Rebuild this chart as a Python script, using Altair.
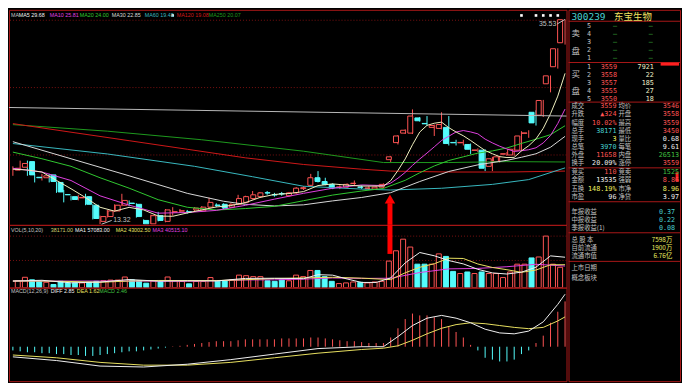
import altair as alt
import pandas as pd

# ---------------- candles (77 trading days) ----------------
opens = [19.19, 19.50, 20.11, 18.41, 18.36, 18.67, 17.85, 16.54, 16.31, 16.18,
         16.31, 15.38, 13.63, 14.15, 14.76, 15.38, 15.61, 15.48, 13.73, 13.36,
         14.25, 13.63, 14.64, 14.74, 14.68, 14.87, 14.76, 15.17, 15.40, 15.48,
         15.17, 15.48, 15.69, 16.10, 16.31, 16.74, 16.53, 16.64, 16.41, 16.72,
         17.18, 17.54, 18.36, 17.95, 17.64, 17.32, 17.34, 17.73, 17.36, 17.21,
         17.13, 17.34, 20.32, 22.17, 23.20, 23.20, 24.85, 24.25, 23.82, 23.71,
         23.82, 22.19, 22.15, 21.97, 21.33, 21.35, 19.60, 20.11, 20.92, 20.83,
         21.35, 23.18, 25.46, 25.15, 28.55, 30.40, 33.00]
highs = [19.60, 20.22, 20.22, 18.78, 18.78, 18.78, 17.95, 17.03, 16.41, 16.51,
         16.62, 15.48, 14.25, 14.87, 15.48, 16.62, 15.90, 15.59, 13.84, 14.35,
         14.66, 14.97, 15.17, 14.97, 14.87, 15.17, 15.28, 16.20, 15.59, 15.59,
         15.59, 16.51, 16.41, 16.92, 16.82, 16.92, 16.72, 16.82, 16.82, 17.34,
         17.44, 18.78, 19.08, 18.36, 17.75, 17.54, 17.75, 18.06, 17.54, 17.44,
         17.44, 17.75, 20.73, 22.99, 23.61, 25.77, 24.95, 25.05, 24.13, 25.46,
         25.05, 22.48, 22.48, 22.07, 21.55, 21.45, 20.63, 20.73, 21.14, 21.55,
         23.41, 23.51, 25.67, 26.80, 29.45, 32.40, 35.53]
lows = [18.57, 19.39, 18.57, 17.85, 18.06, 17.85, 16.72, 15.69, 15.90, 15.90,
        15.38, 13.84, 13.32, 14.04, 14.66, 15.28, 15.28, 14.04, 13.33, 13.34,
        13.63, 13.53, 14.25, 14.56, 14.46, 14.76, 14.66, 15.07, 15.17, 14.97,
        15.07, 15.38, 15.59, 16.00, 16.20, 16.51, 16.31, 16.41, 16.31, 16.62,
        17.03, 17.44, 17.85, 17.54, 17.13, 17.13, 17.23, 17.54, 17.13, 17.03,
        17.03, 17.23, 20.01, 21.97, 23.10, 23.10, 24.44, 24.02, 22.89, 23.61,
        21.86, 21.86, 21.86, 20.94, 21.14, 19.08, 19.08, 20.01, 20.73, 20.73,
        21.24, 22.69, 24.02, 24.95, 27.62, 30.20, 32.80]
closes = [19.39, 19.91, 18.67, 18.36, 18.57, 17.95, 16.82, 16.51, 16.00, 16.22,
          15.48, 13.94, 14.15, 14.76, 15.38, 15.90, 15.57, 14.15, 13.36, 14.25,
          13.73, 14.87, 14.68, 14.78, 14.64, 15.07, 15.17, 15.69, 15.36, 15.07,
          15.48, 16.10, 16.31, 16.51, 16.72, 16.70, 16.49, 16.60, 16.72, 17.23,
          17.28, 18.36, 17.95, 17.64, 17.23, 17.36, 17.64, 17.77, 17.32, 17.25,
          17.34, 17.64, 20.63, 22.89, 23.51, 25.05, 24.54, 24.21, 24.02, 24.13,
          22.07, 22.15, 22.19, 21.45, 21.37, 19.39, 20.42, 20.63, 20.96, 21.45,
          22.89, 23.22, 24.31, 26.74, 29.41, 32.35, 35.50]
vols = [12850, 19360, 14610, 11790, 10030, 5810, 11790, 8800, 8800, 8800,
        10030, 11790, 12850, 14080, 14080, 19890, 14610, 12850, 8270, 12850,
        11790, 19890, 12850, 11790, 7040, 11790, 11790, 18830, 12850, 12850,
        14610, 23410, 22350, 20590, 20590, 12850, 11790, 14610, 12850, 23410,
        20590, 32210, 32210, 20590, 11790, 7570, 8800, 10560, 10030, 8800,
        10560, 11790, 49810, 69170, 90990, 76210, 44000, 44000, 44000, 63360,
        58610, 30450, 26400, 29390, 26400, 29390, 26400, 26400, 18830, 29390,
        44000, 44000, 55790, 57550, 96800, 44000, 38171]

# ---------------- moving averages ----------------
ma5_i = [0, 2, 4, 6, 8, 10, 12, 14, 16, 18, 20, 22, 24, 26, 28, 30, 32, 34, 36, 38, 40, 42, 44, 46,
         48, 50, 51, 52, 53, 54, 55, 56, 57, 58, 59, 60, 61, 62, 63, 64, 65, 66, 67, 68, 69, 70,
         71, 72, 73, 74, 75, 76]
ma5_v = [19.29, 19.20, 18.98, 18.07, 17.17, 16.21, 15.16, 14.74, 15.15, 14.87, 14.21, 14.18, 14.54,
         14.87, 15.19, 15.35, 15.66, 16.22, 16.55, 16.65, 16.86, 17.51, 17.69, 17.56, 17.46, 17.46,
         17.46, 18.04, 19.15, 20.40, 21.94, 23.32, 24.04, 24.27, 24.39, 23.79, 23.32, 22.91, 22.40,
         21.85, 21.31, 20.96, 20.65, 20.55, 20.57, 21.27, 21.83, 22.57, 23.72, 25.31, 27.21, 29.68]
ma10_i = [0, 4, 8, 12, 16, 20, 24, 28, 32, 36, 40, 44, 48, 51, 52, 53, 54, 55, 56, 57, 58, 59, 60,
          61, 62, 63, 64, 65, 66, 67, 68, 69, 70, 71, 72, 73, 74, 75, 76]
ma10_v = [19.39, 18.98, 18.06, 16.40, 15.39, 14.52, 14.59, 14.82, 15.37, 16.04, 16.67, 17.22, 17.58,
          17.51, 17.78, 18.31, 18.94, 19.70, 20.39, 21.04, 21.71, 22.40, 22.87, 23.32, 23.48, 23.33,
          23.12, 22.55, 22.14, 21.78, 21.48, 21.21, 21.29, 21.40, 21.61, 22.14, 22.94, 24.24, 25.81]
ma20_i = [0, 4, 8, 12, 16, 20, 24, 28, 32, 36, 40, 44, 48, 51, 54, 56, 58, 60, 62, 64, 66, 68, 70,
          72, 74, 76]
ma20_v = [21.14, 20.42, 19.60, 18.36, 17.23, 15.98, 15.16, 14.86, 15.02, 15.26, 15.87, 16.48, 16.92,
          17.20, 18.08, 18.90, 19.64, 20.23, 20.63, 21.03, 21.27, 21.59, 22.08, 22.54, 23.03, 24.00]
ma30_i = [0, 8, 16, 24, 29, 32, 36, 40, 44, 48, 52, 56, 60, 64, 68, 70, 72, 74, 76]
ma30_v = [22.27, 20.42, 18.57, 16.67, 15.81, 15.48, 15.30, 15.42, 15.85, 16.22, 16.74, 17.95, 19.04,
          19.76, 20.25, 20.58, 20.96, 21.67, 22.85]
ma60_i = [0, 13, 25, 33, 40, 48, 52, 59, 66, 71, 76]
ma60_v = [22.07, 20.94, 19.60, 18.47, 17.44, 17.13, 17.03, 17.22, 17.64, 18.16, 19.43]
ma120_i = [0, 8, 16, 24, 32, 40, 48, 52, 60, 68, 76]
ma120_v = [24.23, 23.30, 22.38, 21.45, 20.52, 19.80, 19.29, 19.08, 18.98, 18.98, 19.08]
ma250_i = [0, 13, 26, 40, 51, 60, 68, 76]
ma250_v = [24.12, 23.41, 22.48, 21.24, 20.01, 20.01, 20.11, 20.07]
trend_i = [-0.6, 76.3]
trend_v = [25.98, 25.05]

# ---------------- volume averages ----------------
vma5_i = [0, 4, 8, 12, 16, 20, 24, 28, 32, 36, 40, 42, 44, 46, 48, 50, 52, 54, 56, 58, 60, 62, 64,
          66, 68, 70, 72, 74, 76]
vma5_v = [12310, 13720, 8970, 10380, 15130, 12140, 12660, 12490, 17240, 17590, 16710, 24270, 23390,
          16180, 9670, 9670, 18120, 46440, 65960, 59810, 50830, 44500, 34300, 27620, 25510, 29020,
          38350, 59630, 57083]
vma10_i = [0, 4, 8, 12, 16, 20, 24, 28, 32, 36, 40, 44, 48, 52, 54, 56, 58, 60, 62, 64, 66, 68, 70,
           72, 74, 76]
vma10_v = [12310, 12310, 11430, 10030, 12310, 13370, 13190, 13190, 14780, 17060, 18290, 19350, 17770,
           14950, 27790, 38170, 44850, 55230, 54700, 44330, 37820, 33600, 28670, 32980, 42920, 43002]
vma20_i = [0, 4, 8, 12, 16, 20, 24, 28, 32, 36, 40, 44, 48, 52, 56, 60, 64, 68, 72, 76]
vma20_v = [12310, 12310, 12310, 12310, 12310, 12140, 11960, 12930, 14420, 14600, 15830, 18120, 17240,
           17590, 28320, 35180, 36060, 39230, 43800, 40515]

# ---------------- MACD ----------------
macd_i = [0, 6, 12, 18, 24, 30, 36, 42, 48, 51, 53, 55, 57, 59, 61, 63, 65, 67, 69, 71, 73, 75, 76]
diff_v = [-0.55, -0.75, -1.05, -1.10, -0.95, -0.70, -0.40, -0.10, 0.00, 0.00, 0.55, 1.15, 1.55, 1.70,
          1.55, 1.30, 0.95, 0.75, 0.70, 0.85, 1.35, 2.30, 2.85]
dea_v = [-0.45, -0.60, -0.85, -1.00, -1.00, -0.85, -0.60, -0.35, -0.15, -0.08, 0.05, 0.35, 0.70, 1.00,
         1.20, 1.30, 1.25, 1.15, 1.05, 0.98, 1.05, 1.40, 1.62]
macd_bar = [-0.20, -0.25, -0.30, -0.30, -0.35, -0.35, -0.40, -0.40, -0.45, -0.45,
            -0.50, -0.50, -0.45, -0.40, -0.35, -0.30, -0.25, -0.25, -0.20, -0.15,
            -0.10, -0.05, 0.02, 0.05, 0.10, 0.15, 0.20, 0.25, 0.30, 0.30,
            0.30, 0.35, 0.40, 0.40, 0.40, 0.40, 0.40, 0.45, 0.45, 0.45,
            0.45, 0.50, 0.50, 0.45, 0.40, 0.35, 0.30, 0.30, 0.25, 0.20,
            0.20, 0.20, 0.50, 1.00, 1.50, 1.80, 1.70, 1.70, 1.60, 1.50,
            1.10, 0.80, 0.50, 0.10, -0.20, -0.60, -0.70, -0.80, -0.80, -0.70,
            -0.40, -0.20, 0.20, 0.60, 1.30, 1.90, 2.46]

# ---------------- info panel text ----------------
book_lv = ["5", "4", "3", "2", "1", "1", "2", "3", "4", "5"]
book_px = ["—", "—", "—", "—", "—", "3559", "3558", "3557", "3555", "3550"]
book_vol = ["—", "—", "—", "—", "—", "7921", "22", "185", "27", "18"]
q_lab1 = ["成交", "升跌", "幅度", "总手", "现手", "总笔", "外盘", "换手", "竞买", "金额", "五换", "市盈"]
q_val1 = ["3559", "▲324", "10.02%", "38171", "3", "3970", "11658", "20.09%", "110", "13535", "148.19%", "96"]
q_lab2 = ["均价", "开盘", "最高", "最低", "量比", "每笔", "内盘", "涨停", "竞卖", "强弱", "市净", "净贷"]
q_val2 = ["3546", "3558", "3559", "3450", "0.68", "9.61", "26513", "3559", "1525", "8.86", "8.96", "3.97"]
f_lab = ["年报收益", "中报收益", "季报收益(1)"]
f_val = ["0.37", "0.22", "0.08"]
s_lab = ["总 股 本", "目前流通", "流通市值"]
s_val = ["7598万", "1900万", "6.76亿"]
e_lab = ["上市日期", "概念板块"]

# ---------------- style / layout ----------------
SX = 672 / 690
SY = 373 / 391
W_L, W_R = 560, 112
H1, H2, H3 = 216, 63, 94
BG = "#000000"
BORDER = "#a81818"
GRIDC = "#7a1010"
RED = "#ff5454"
CYAN = "#54fcfc"
GREY = "#c0c0c0"
YEL = "#f0f060"
FONT = "Liberation Sans"
CJK = "Noto Sans CJK SC"
MONO = "DejaVu Sans Mono"

X_DOM = [-0.534, 76.2]
P_DOM = [13.25, 36.57]
V_DOM = [0, 117900]
M_DOM = [-1.87, 3.21]


def xsc():
    return alt.Scale(domain=X_DOM, nice=False, zero=False)


def ysc(dom):
    return alt.Scale(domain=dom, nice=False, zero=False)


XI = alt.X("i:Q", scale=xsc(), axis=None)

cd = pd.DataFrame({"i": list(range(len(opens))), "open": opens, "high": highs,
                   "low": lows, "close": closes, "vol": vols})
cd["dir"] = ["up" if c >= o else "down" for o, c in zip(opens, closes)]
dir_color = alt.Color("dir:N", scale=alt.Scale(domain=["up", "down"], range=[RED, CYAN]), legend=None)


def lines_df(items):
    rows = []
    for name, ii, vv in items:
        for a, b in zip(ii, vv):
            rows.append({"name": name, "i": a, "v": b})
    return pd.DataFrame(rows)


def legend_layer(items, ypx, size=5.4):
    df = pd.DataFrame(items, columns=["t", "px", "c"])
    df["px"] = df["px"] * SX
    return alt.Chart(df).mark_text(align="left", baseline="middle", font=FONT, fontSize=size).encode(
        x=alt.X("px:Q", scale=None), y=alt.value(ypx * SY), text="t:N",
        color=alt.Color("c:N", scale=None))


# ---------------- main price panel ----------------
grid_main = alt.Chart(pd.DataFrame({"p": [35.44, 28.14, 20.83]})).mark_rule(
    color=GRIDC, strokeDash=[1, 2], strokeWidth=1).encode(y=alt.Y("p:Q", scale=ysc(P_DOM), axis=None))

wick = alt.Chart(cd).mark_rule(strokeWidth=1, clip=True).encode(
    x=XI, y=alt.Y("low:Q", scale=ysc(P_DOM), axis=None), y2="high:Q", color=dir_color)
body_up = alt.Chart(cd).transform_filter("datum.dir == 'up'").mark_bar(
    size=5, fill=BG, stroke=RED, strokeWidth=1, clip=True).encode(
    x=XI, y=alt.Y("open:Q", scale=ysc(P_DOM), axis=None), y2="close:Q")
body_dn = alt.Chart(cd).transform_filter("datum.dir == 'down'").mark_bar(
    size=5, fill=CYAN, stroke=CYAN, strokeWidth=1, clip=True).encode(
    x=XI, y=alt.Y("open:Q", scale=ysc(P_DOM), axis=None), y2="close:Q")

ma_names = ["MA250", "MA120", "MA60", "MA30", "MA20", "MA10", "MA5", "trend"]
ma_cols = ["#1e9a1e", "#d01818", "#38b8c0", "#d8d8d8", "#30c830", "#e040e0", "#f0f0c0", "#b8b8b8"]
ma_df = lines_df([("MA250", ma250_i, ma250_v), ("MA120", ma120_i, ma120_v), ("MA60", ma60_i, ma60_v),
                  ("MA30", ma30_i, ma30_v), ("MA20", ma20_i, ma20_v), ("MA10", ma10_i, ma10_v),
                  ("MA5", ma5_i, ma5_v), ("trend", trend_i, trend_v)])
ma_lines = alt.Chart(ma_df).mark_line(strokeWidth=1, clip=True).encode(
    x=XI, y=alt.Y("v:Q", scale=ysc(P_DOM), axis=None),
    color=alt.Color("name:N", scale=alt.Scale(domain=ma_names, range=ma_cols), legend=None))

lead_df = pd.DataFrame({"i": [74.9, 12.2], "i2": [76.0, 13.6], "v": [35.03, 13.32], "v2": [35.53, 13.73]})
leaders = alt.Chart(lead_df).mark_rule(color=GREY, strokeWidth=1).encode(
    x=XI, x2="i2:Q", y=alt.Y("v:Q", scale=ysc(P_DOM), axis=None), y2="v2:Q")
lab_df = pd.DataFrame({"i": [74.8, 13.8], "v": [35.05, 13.73], "t": ["35.53", "13.32"]})
hi_lab = alt.Chart(lab_df.iloc[[0]]).mark_text(align="right", baseline="middle", font=FONT,
                                               fontSize=7, color=GREY).encode(
    x=XI, y=alt.Y("v:Q", scale=ysc(P_DOM), axis=None), text="t:N")
lo_lab = alt.Chart(lab_df.iloc[[1]]).mark_text(align="left", baseline="middle", font=FONT,
                                               fontSize=7, color=GREY).encode(
    x=XI, y=alt.Y("v:Q", scale=ysc(P_DOM), axis=None), text="t:N")

mine_df = pd.DataFrame({"i": [22, 70, 72, 73, 74, 75], "v": [35.96] * 6})
mines = alt.Chart(mine_df).mark_square(size=7, color="#ffffff", opacity=1).encode(
    x=XI, y=alt.Y("v:Q", scale=ysc(P_DOM), axis=None))

arrow_df = pd.DataFrame({"i": [51.9], "v": [13.25], "v2": [15.6], "tip": [16.05]})
arrow_bar = alt.Chart(arrow_df).mark_rule(color="#ff0000", strokeWidth=5).encode(
    x=XI, y=alt.Y("v:Q", scale=ysc(P_DOM), axis=None), y2="v2:Q")
arrow_head = alt.Chart(arrow_df).mark_point(shape="triangle-up", filled=True, size=110,
                                            color="#ff0000", opacity=1).encode(
    x=XI, y=alt.Y("tip:Q", scale=ysc(P_DOM), axis=None))

ma_legend = legend_layer([("MA", 2, GREY), ("MA5 29.68", 10, "#f0f0f0"), ("MA10 25.81", 42, "#e040e0"),
                          ("MA20 24.00", 73, "#30c830"), ("MA30 22.85", 106, "#d8d8d8"),
                          ("MA60 19.43", 140, "#38b8c0"), ("MA120 19.08", 173, "#d01818"),
                          ("MA250 20.07", 206, "#1e9a1e")], 5)

main = alt.layer(grid_main, wick, body_up, body_dn, ma_lines, leaders, hi_lab, lo_lab, mines,
                 arrow_bar, arrow_head, ma_legend).resolve_scale(
    x="independent", y="independent", color="independent").properties(width=W_L, height=H1)

# ---------------- volume panel ----------------
grid_vol = alt.Chart(pd.DataFrame({"p": [96750, 51000]})).mark_rule(
    color=GRIDC, strokeDash=[1, 2], strokeWidth=1).encode(y=alt.Y("p:Q", scale=ysc(V_DOM), axis=None))
vol_up = alt.Chart(cd).transform_filter("datum.dir == 'up'").mark_bar(
    size=5, fill=BG, stroke=RED, strokeWidth=1, clip=True).encode(
    x=XI, y=alt.Y("vol:Q", scale=ysc(V_DOM), axis=None))
vol_dn = alt.Chart(cd).transform_filter("datum.dir == 'down'").mark_bar(
    size=5, fill=CYAN, stroke=CYAN, strokeWidth=1, clip=True).encode(
    x=XI, y=alt.Y("vol:Q", scale=ysc(V_DOM), axis=None))
vma_df = lines_df([("V20", vma20_i, vma20_v), ("V10", vma10_i, vma10_v), ("V5", vma5_i, vma5_v)])
vma_lines = alt.Chart(vma_df).mark_line(strokeWidth=1, clip=True).encode(
    x=XI, y=alt.Y("v:Q", scale=ysc(V_DOM), axis=None),
    color=alt.Color("name:N", scale=alt.Scale(domain=["V20", "V10", "V5"],
                                              range=["#e040e0", "#e8e060", "#f0f0f0"]), legend=None))
arrow_vol = alt.Chart(pd.DataFrame({"i": [51.9], "v": [117900], "v2": [63300]})).mark_rule(
    color="#ff0000", strokeWidth=5).encode(x=XI, y=alt.Y("v:Q", scale=ysc(V_DOM), axis=None), y2="v2:Q")
vol_legend = legend_layer([("VOL(5,10,20)", 2, GREY), ("38171.00", 43, "#d0d070"),
                           ("MA1 57083.00", 68, "#f0f0f0"), ("MA2 43002.50", 110, "#e8e060"),
                           ("MA3 40515.10", 148, "#e040e0")], 231 - 226)
vol = alt.layer(grid_vol, vol_up, vol_dn, vma_lines, arrow_vol, vol_legend).resolve_scale(
    x="independent", y="independent", color="independent").properties(width=W_L, height=H2)

# ---------------- MACD panel ----------------
md = pd.DataFrame({"i": list(range(len(macd_bar))), "m": macd_bar, "z": [0.0] * len(macd_bar)})
md["s"] = ["pos" if v >= 0 else "neg" for v in macd_bar]
macd_bars = alt.Chart(md).mark_rule(strokeWidth=1, clip=True).encode(
    x=XI, y=alt.Y("m:Q", scale=ysc(M_DOM), axis=None), y2="z:Q",
    color=alt.Color("s:N", scale=alt.Scale(domain=["pos", "neg"], range=[RED, CYAN]), legend=None))
mline_df = lines_df([("DEA", macd_i, dea_v), ("DIFF", macd_i, diff_v)])
macd_lines = alt.Chart(mline_df).mark_line(strokeWidth=1, clip=True).encode(
    x=XI, y=alt.Y("v:Q", scale=ysc(M_DOM), axis=None),
    color=alt.Color("name:N", scale=alt.Scale(domain=["DEA", "DIFF"], range=["#e8e060", "#f0f0f0"]),
                    legend=None))
macd_legend = legend_layer([("MACD(12,26,9)", 2, GREY), ("DIFF 2.85", 43, "#f0f0f0"),
                            ("DEA 1.62", 70, "#e8e060"), ("MACD 2.46", 93, "#40c040")], 297 - 293)
macd = alt.layer(macd_bars, macd_lines, macd_legend).resolve_scale(
    x="independent", y="independent", color="independent").properties(width=W_L, height=H3)

# ---------------- info panel ----------------
R_DOM = [-0.698, 44.77]
q_rows = [11.1, 12.1, 13.1, 14.1, 15.1, 16.1, 17.1, 18.1, 19.2, 20.2, 21.2, 22.2]


def col(xref):
    return (xref - 575) * SX


txt = []


def add(t, xref, r, align, c, size=6.4, font=CJK):
    txt.append({"t": t, "px": col(xref), "r": r, "a": align, "c": c, "s": size, "f": font})


add("300239", 578, 0.15, "left", "#48d0d0", 9.5, MONO)
add("东宝生物", 622, 0.15, "left", "#f0e060", 9.5)
add("卖", 578, 2.2, "left", GREY, 8.5)
add("盘", 578, 4.3, "left", GREY, 8.5)
add("买", 578, 7.2, "left", GREY, 8.5)
add("盘", 578, 9.2, "left", GREY, 8.5)
for k in range(10):
    r = 1.25 + k
    add(book_lv[k], 594, r, "left", GREY, 6.8, MONO)
    if k < 5:
        add(book_px[k], 625, r, "right", "#40c040", 6.8, MONO)
        add(book_vol[k], 662, r, "right", "#40c040", 6.8, MONO)
    else:
        add(book_px[k], 625, r, "right", RED, 6.8, MONO)
        add(book_vol[k], 663, r, "right", "#f0f0c8", 6.8, MONO)
v1c = [RED, RED, RED, "#48d0d0", YEL, "#48d0d0", RED, "#f0f0f0", RED, "#f0f0f0", YEL, "#f0f0f0"]
v2c = [RED, RED, RED, RED, "#f0f0f0", "#f0f0f0", "#40c040", RED, "#40c040", RED, YEL, "#f0f0f0"]
for k in range(12):
    r = q_rows[k]
    add(q_lab1[k], 578, r, "left", GREY)
    add(q_val1[k], 624.5, r, "right", v1c[k], 6.8, MONO)
    add(q_lab2[k], 626.5, r, "left", GREY)
    add(q_val2[k], 689, r, "right", v2c[k], 6.8, MONO)
for k in range(3):
    add(f_lab[k], 578, 24 + k, "left", GREY)
    add(f_val[k], 685, 24 + k, "right", "#48d0d0", 6.8, MONO)
for k in range(3):
    add(s_lab[k], 578, 27.5 + k, "left", GREY)
    add(s_val[k], 682, 27.5 + k, "right", YEL)
add(e_lab[0], 578, 30.9, "left", GREY)
add(e_lab[1], 578, 32.1, "left", GREY)
tdf = pd.DataFrame(txt)

RY = alt.Y("r:Q", scale=alt.Scale(domain=R_DOM, range=[0, H1 + H2 + H3]), axis=None)
info_layers = []
for a in ["left", "right"]:
    for f in [CJK, MONO]:
        for s in sorted(tdf["s"].unique()):
            sub = tdf[(tdf["a"] == a) & (tdf["s"] == s) & (tdf["f"] == f)]
            if len(sub) == 0:
                continue
            info_layers.append(alt.Chart(sub).mark_text(align=a, baseline="middle", font=f,
                                                        fontSize=float(s)).encode(
                x=alt.X("px:Q", scale=None), y=RY, text="t:N", color=alt.Color("c:N", scale=None)))
sep = alt.Chart(pd.DataFrame({"r": [0.7, 5.75, 10.6, 18.65, 22.8, 26.6, 30.1]})).mark_rule(
    color=BORDER, strokeWidth=1).encode(y=RY)
ind_df = pd.DataFrame({"px": [col(670), col(687)], "px2": [col(689), col(687)],
                       "r": [5.95, 19.2], "r2": [5.95, 20.3]})
indic = alt.Chart(ind_df).mark_rule(color="#ff2020", strokeWidth=3).encode(
    x=alt.X("px:Q", scale=None), x2="px2:Q", y=RY, y2="r2:Q")
info = alt.layer(sep, indic, *info_layers).resolve_scale(
    x="independent", y="independent", color="independent").properties(width=W_R, height=H1 + H2 + H3)

left = alt.vconcat(main, vol, macd, spacing=0, bounds="flush")
chart = alt.hconcat(left, info, spacing=0).properties(
    background=BG, padding=0).configure_view(stroke=BORDER, strokeWidth=1)

chart.save("out.html", embed_options={"renderer": "svg", "actions": False})
